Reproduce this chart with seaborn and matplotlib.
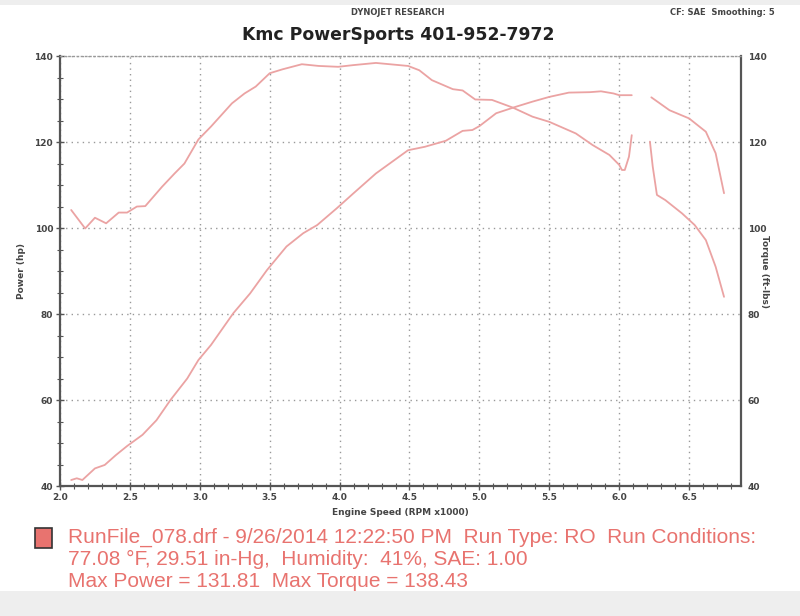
import numpy as np
import pandas as pd
import matplotlib
matplotlib.use("Agg")
import matplotlib.pyplot as plt
import seaborn as sns
from matplotlib.patches import Rectangle

sns.set_theme(style="white", context="paper")
plt.rcParams['font.family'] = 'DejaVu Sans'

# Dyno run data (rpm x1000)
rpm_power_a = [2.08, 2.12, 2.16, 2.25, 2.32, 2.40, 2.48, 2.59, 2.69, 2.79, 2.91, 2.99,
               3.08, 3.24, 3.36, 3.48, 3.62, 3.74, 3.84, 3.98, 4.10, 4.26, 4.49, 4.61,
               4.76, 4.88, 4.95, 5.00, 5.12, 5.26, 5.38, 5.50, 5.64, 5.79, 5.87, 5.96,
               6.00, 6.09]
power_a = [41.4, 41.8, 41.4, 44.1, 44.9, 47.2, 49.3, 51.9, 55.3, 60.0, 65.0, 69.3,
           72.8, 80.2, 84.8, 90.2, 95.7, 98.8, 100.7, 104.6, 108.1, 112.7, 118.1, 118.9,
           120.3, 122.6, 122.8, 123.7, 126.7, 128.2, 129.4, 130.5, 131.5, 131.6, 131.8, 131.3,
           130.9, 130.9]
rpm_power_b = [6.23, 6.36, 6.50, 6.62, 6.69, 6.75]
power_b = [130.4, 127.4, 125.5, 122.4, 117.4, 108.1]

rpm_torque_a = [2.08, 2.18, 2.25, 2.33, 2.42, 2.48, 2.55, 2.61, 2.73, 2.82, 2.89, 2.99,
                3.08, 3.23, 3.32, 3.40, 3.50, 3.59, 3.73, 3.85, 3.99, 4.10, 4.26, 4.49,
                4.57, 4.66, 4.81, 4.88, 4.97, 5.09, 5.24, 5.38, 5.50, 5.69, 5.81, 5.93,
                6.00, 6.02, 6.04, 6.07, 6.09]
torque_a = [104.2, 99.9, 102.4, 101.1, 103.6, 103.6, 105.0, 105.1, 109.6, 112.7, 115.0, 120.6,
            123.6, 129.0, 131.3, 132.9, 136.0, 136.9, 138.1, 137.7, 137.5, 137.9, 138.4, 137.7,
            136.7, 134.4, 132.3, 132.0, 129.9, 129.8, 128.0, 125.9, 124.7, 122.0, 119.3, 117.0,
            114.7, 113.5, 113.5, 116.6, 121.6]
rpm_torque_b = [6.22, 6.24, 6.27, 6.33, 6.45, 6.54, 6.62, 6.69, 6.75]
torque_b = [120.1, 114.3, 107.7, 106.5, 103.4, 100.7, 97.2, 91.0, 84.0]

run_info = ["RunFile_078.drf - 9/26/2014 12:22:50 PM  Run Type: RO  Run Conditions:",
            "77.08 \u00b0F, 29.51 in-Hg,  Humidity:  41%, SAE: 1.00",
            "Max Power = 131.81  Max Torque = 138.43"]

# long table, one "seg" per unbroken piece of trace
parts = [("power", "a", rpm_power_a, power_a), ("power", "b", rpm_power_b, power_b),
         ("torque", "a", rpm_torque_a, torque_a), ("torque", "b", rpm_torque_b, torque_b)]
df = pd.concat([pd.DataFrame({"rpm": r, "value": v, "measure": m, "seg": m + s})
                for m, s, r, v in parts], ignore_index=True)

curve_col = "#eba3a3"
axis_col = "#555555"

fig = plt.figure(figsize=(8, 6.16), dpi=100)
ax = fig.add_axes([0.075, 0.211, 0.851, 0.698])

sns.lineplot(data=df, x="rpm", y="value", hue="measure", units="seg", estimator=None,
             palette={"power": curve_col, "torque": curve_col}, linewidth=1.3,
             legend=False, ax=ax)

ax.set_xlim(2.0, 6.87)
ax.set_ylim(40, 140)
ax.set_xticks(np.arange(2.0, 6.6, 0.5))
ax.set_xticks(np.arange(2.0, 6.9, 0.1), minor=True)
ax.set_yticks(np.arange(40, 141, 20))
ax.set_yticks(np.arange(40, 141, 5), minor=True)
ax.grid(True, which="major", color="#999999", linestyle=(0, (1, 3)), linewidth=1.0)

for side in ["left", "bottom", "right"]:
    ax.spines[side].set_color(axis_col)
    ax.spines[side].set_linewidth(1.6)
ax.spines["top"].set_color("#999999")
ax.spines["top"].set_linestyle((0, (1, 2)))
ax.spines["top"].set_linewidth(1.0)

ax.tick_params(axis="both", which="major", direction="inout", length=6, color=axis_col,
               labelsize=6.5, labelcolor="#444444", pad=2)
ax.tick_params(axis="both", which="minor", direction="inout", length=4, color=axis_col)
ax.tick_params(axis="y", which="both", right=True, left=True)
ax.tick_params(axis="x", which="both", bottom=True, top=False)
for lab in ax.get_xticklabels() + ax.get_yticklabels():
    lab.set_fontweight("bold")
ax.set_xticklabels([f"{t:.1f}" for t in np.arange(2.0, 6.6, 0.5)])

ax.set_xlabel("Engine Speed (RPM x1000)", fontsize=6.5, fontweight="bold", color="#444444",
              labelpad=4)
ax.set_ylabel("Power (hp)", fontsize=6.5, fontweight="bold", color="#444444", labelpad=6)

# torque shares the same 40-140 scale
ax2 = ax.twinx()
ax2.set_ylim(40, 140)
ax2.set_yticks(np.arange(40, 141, 20))
ax2.tick_params(axis="y", length=0, labelsize=6.5, labelcolor="#444444", pad=5)
for lab in ax2.get_yticklabels():
    lab.set_fontweight("bold")
for side in ax2.spines:
    ax2.spines[side].set_visible(False)
ax2.set_ylabel("Torque (ft-lbs)", fontsize=6.5, fontweight="bold", color="#444444",
               rotation=-90, labelpad=2)

# header
fig.text(0.4975, 0.979, "DYNOJET RESEARCH", ha="center", va="center", fontsize=6,
         fontweight="bold", color="#444444")
fig.text(0.968, 0.979, "CF: SAE  Smoothing: 5", ha="right", va="center", fontsize=6,
         fontweight="bold", color="#444444")
fig.text(0.4975, 0.943, "Kmc PowerSports 401-952-7972", ha="center", va="center",
         fontsize=12.4, fontweight="bold", color="#222222")

# run legend block
fig.patches.append(Rectangle((0.044, 0.111), 0.021, 0.032, transform=fig.transFigure,
                             facecolor="#e8736f", edgecolor="#333333", linewidth=1.2))
for i, line in enumerate(run_info):
    fig.text(0.085, 0.127 - i * 0.0355, line, ha="left", va="center", fontsize=15,
             family="Liberation Sans", color="#e8736f")

# scan-like grey bands at top and bottom
fig.patches.append(Rectangle((0, 0), 1, 0.04, transform=fig.transFigure,
                             facecolor="#eeeeee", edgecolor="none", zorder=-1))
fig.patches.append(Rectangle((0, 0.992), 1, 0.008, transform=fig.transFigure,
                             facecolor="#eeeeee", edgecolor="none", zorder=-1))

fig.savefig("out.png", dpi=100)
